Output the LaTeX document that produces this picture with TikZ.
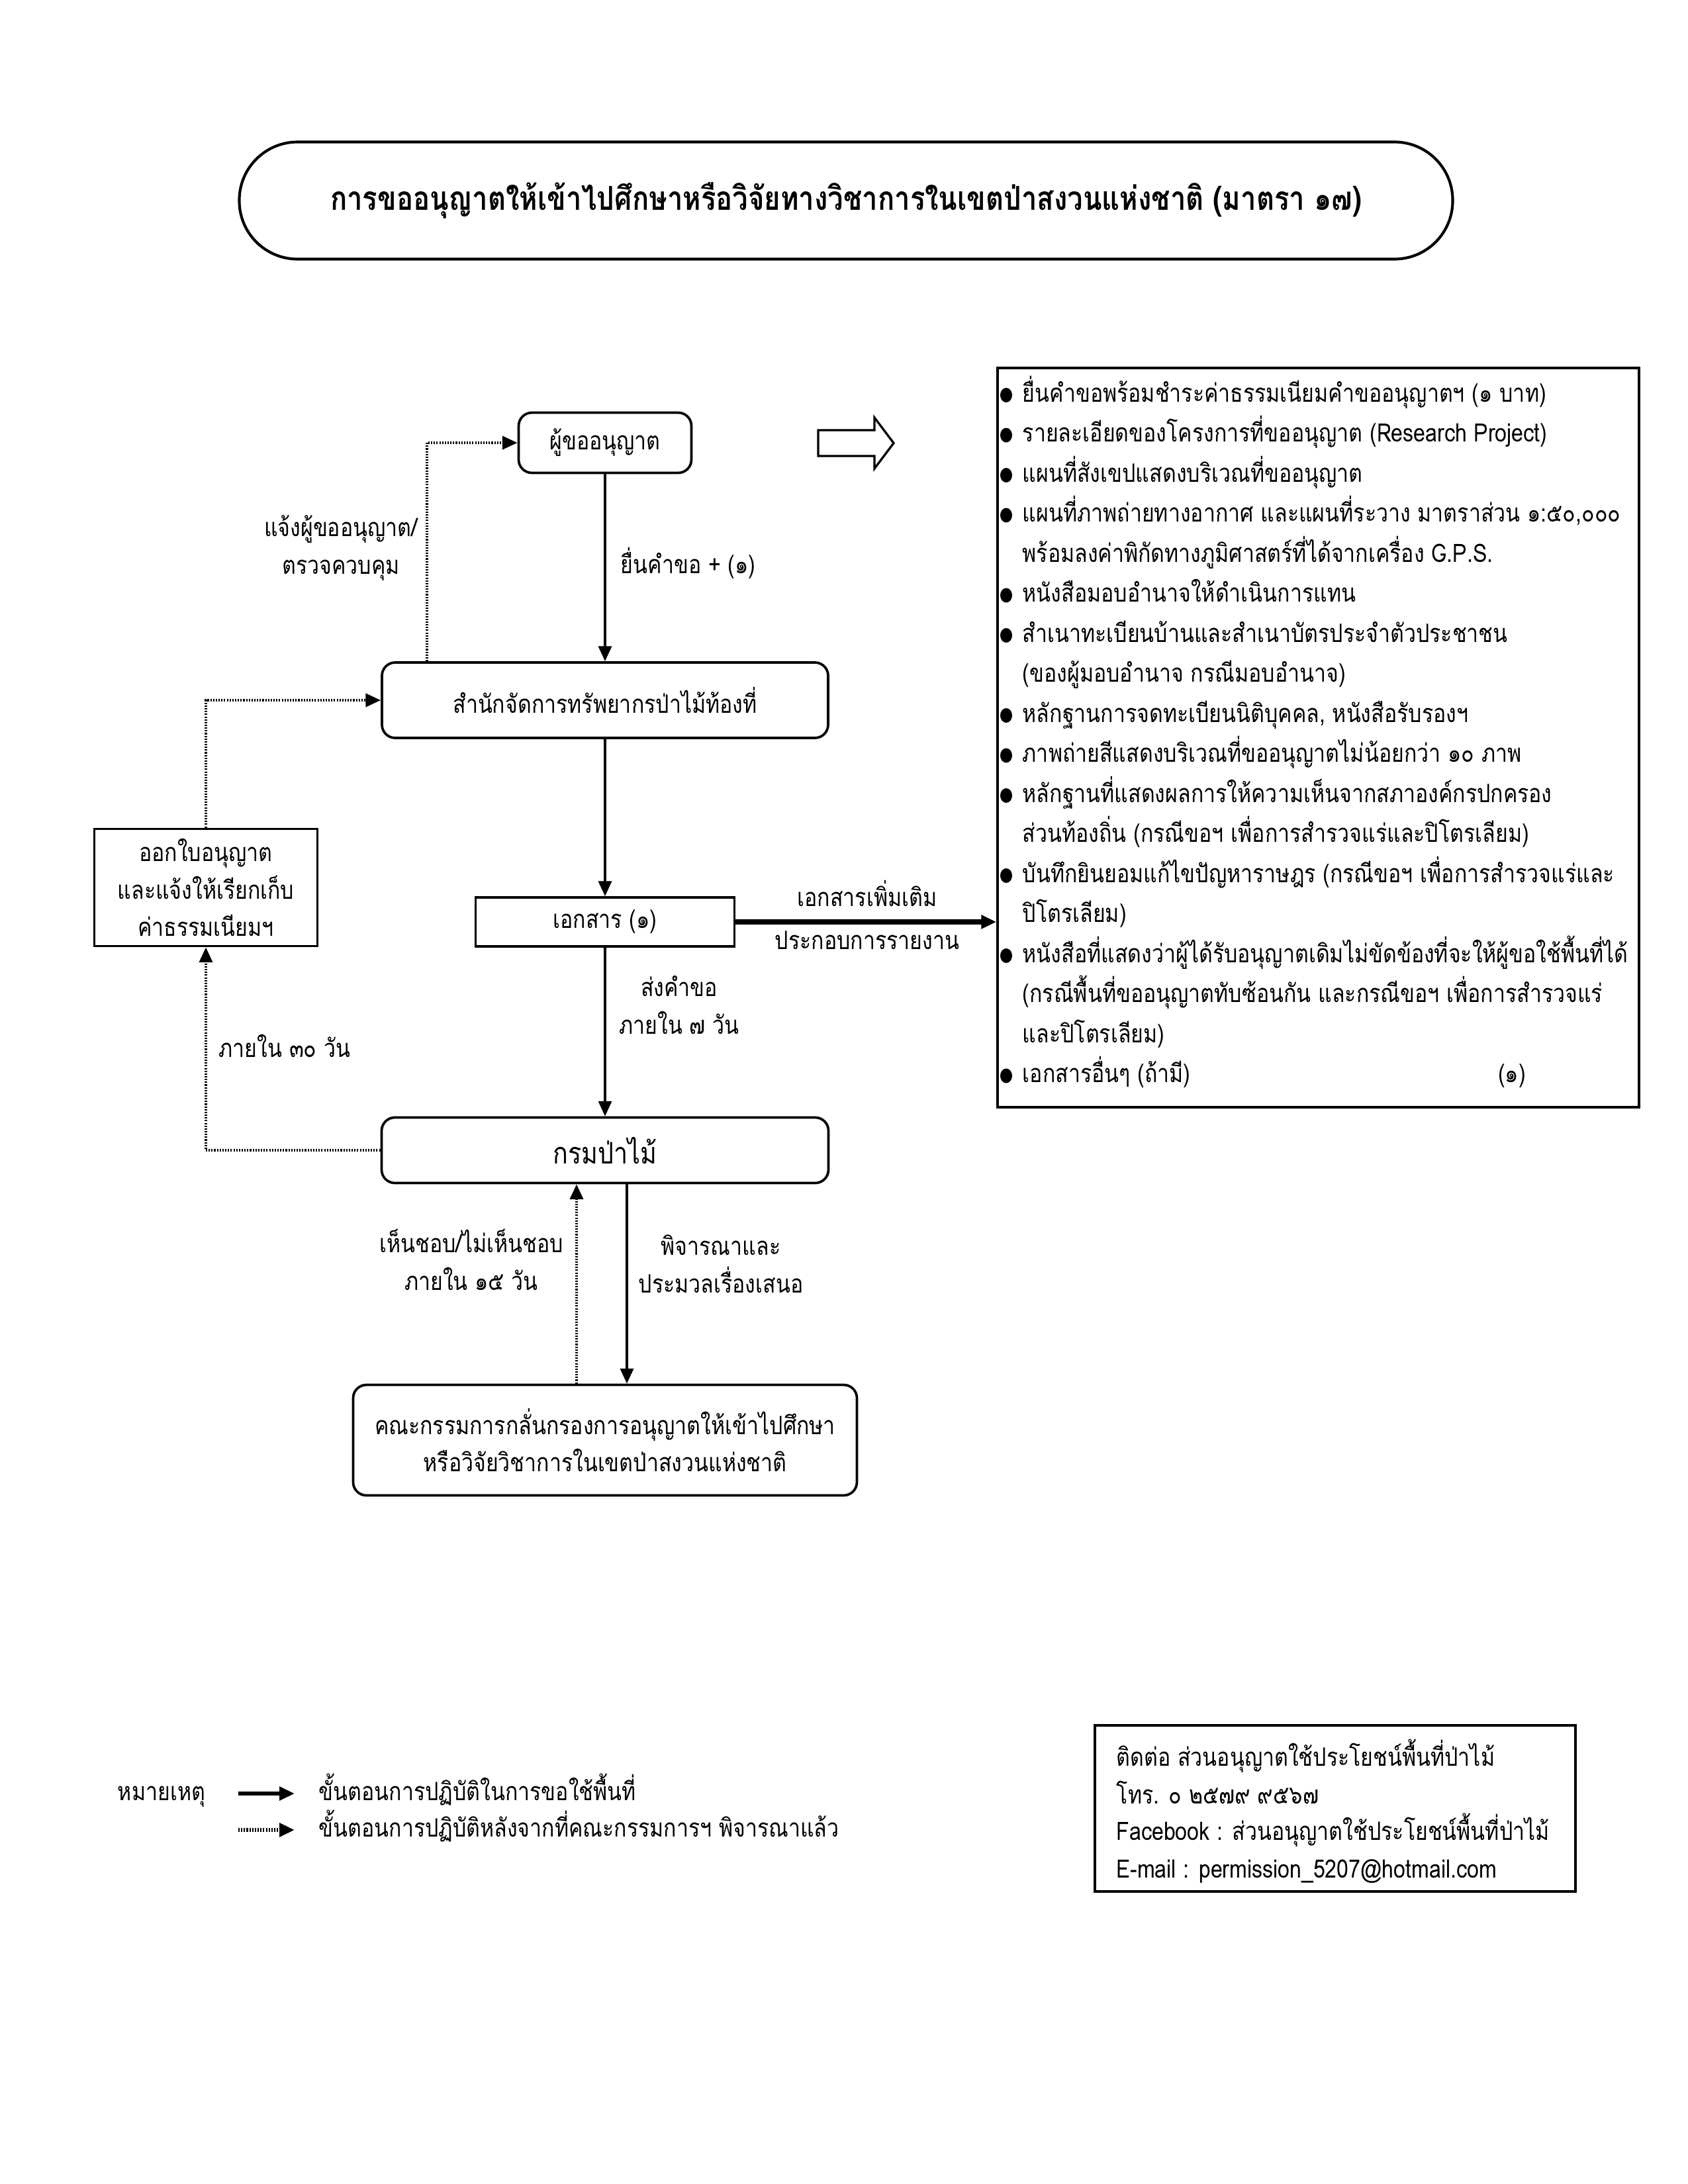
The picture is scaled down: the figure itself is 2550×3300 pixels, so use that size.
\documentclass[tikz,border=0pt]{standalone}
\usepackage{fontspec}
\setmainfont[Script=Thai,FakeStretch=0.84]{Loma}
\usetikzlibrary{arrows.meta}
\newdimen\pxu \pxu=0.084667mm
\newcommand\bodyfont{\fontsize{9.2pt}{13.7pt}\selectfont}
\newcommand\titlefont{\fontsize{12pt}{14pt}\selectfont\bfseries}
\newcommand\bigfont{\fontsize{10.8pt}{14pt}\selectfont}
\begin{document}
\begin{tikzpicture}[x=\pxu,y=-\pxu,
  txt/.style={font=\bodyfont,inner sep=0pt,text height=0.75em,text depth=0.25em},
  rbox/.style={draw,line width=0.9pt,rounded corners=20\pxu,inner sep=0pt,align=center,font=\bodyfont},
  sbox/.style={draw,line width=0.9pt,inner sep=0pt,align=center,font=\bodyfont},
  tip/.style={-{Triangle[length=5.5pt,width=4.8pt]}},
  conn/.style={tip,line width=0.9pt},
  tconn/.style={tip,line width=1.8pt},
  dconn/.style={tip,line width=1pt,dash pattern=on 0.5pt off 0.5pt}]
\fill[white] (0,0) rectangle (2550,3300);
\useasboundingbox (0,0) rectangle (2550,3300);

% title
\node[draw,line width=1pt,rounded corners=88\pxu,minimum width=1833\pxu,minimum height=177\pxu,inner sep=0pt,font=\titlefont] (title) at (1278,303) {การขออนุญาตให้เข้าไปศึกษาหรือวิจัยทางวิชาการในเขตป่าสงวนแห่งชาติ (มาตรา ๑๗)};

% boxes
\node[rbox,minimum width=261\pxu,minimum height=91\pxu] (req) at (914,669) {ผู้ขออนุญาต};
\node[rbox,minimum width=674\pxu,minimum height=114\pxu] (office) at (914,1058) {สำนักจัดการทรัพยากรป่าไม้ท้องที่};
\node[sbox,minimum width=391\pxu,minimum height=74\pxu] (doc) at (914,1393) {เอกสาร (๑)};
\node[rbox,minimum width=675\pxu,minimum height=99\pxu,font=\bigfont] (dept) at (914,1738) {กรมป่าไม้};
\node[sbox,minimum width=337\pxu,minimum height=177\pxu] (issue) at (311,1341) {ออกใบอนุญาต\\และแจ้งให้เรียกเก็บ\\ค่าธรรมเนียมฯ};
\node[rbox,minimum width=761\pxu,minimum height=167\pxu] (comm) at (914,2176) {คณะกรรมการกลั่นกรองการอนุญาตให้เข้าไปศึกษา\\หรือวิจัยวิชาการในเขตป่าสงวนแห่งชาติ};
\node[sbox,minimum width=969\pxu,minimum height=1117\pxu] (list) at (1991.5,1114.5) {};
\node[sbox,minimum width=726\pxu,minimum height=251\pxu] (contact) at (2017,2732.5) {};

% hollow arrow
\draw[line width=0.8pt] (1236,650) -- (1321,650) -- (1321,631) -- (1350,669.5) -- (1321,708) -- (1321,689) -- (1236,689) -- cycle;

% connectors
\coordinate (cR) at (947,0);
\coordinate (cL) at (871,0);
\coordinate (cU) at (645,0);
\draw[conn] (req.south) -- (office.north);
\draw[conn] (office.south) -- (doc.north);
\draw[conn] (doc.south) -- (dept.north);
\draw[tconn] (doc.east) -- (doc.east -| list.west);
\draw[conn] (dept.south -| cR) -- (comm.north -| cR);
\draw[dconn] (comm.north -| cL) -- (dept.south -| cL);
\draw[dconn] (office.north -| cU) |- (req.west);
\draw[dconn] (dept.west) -| (issue.south);
\draw[dconn] (issue.north) |- (office.west);

% connector labels
\node[txt,anchor=west] (l1) at (937,856) {ยื่นคำขอ + (๑)};
\node[txt,align=center] (l2) at (515,857) {แจ้งผู้ขออนุญาต/\\ตรวจควบคุม};
\node[txt] (l3a) at (1310,1359) {เอกสารเพิ่มเติม};
\node[txt] (l3b) at (1310,1424) {ประกอบการรายงาน};
\node[txt,align=center] (l4) at (1026,1552) {ส่งคำขอ\\ภายใน ๗ วัน};
\node[txt] (l5) at (430,1587) {ภายใน ๓๐ วัน};
\node[txt,align=center] (l6) at (712,1939) {เห็นชอบ/ไม่เห็นชอบ\\ภายใน ๑๕ วัน};
\node[txt,align=center] (l7) at (1089,1943) {พิจารณาและ\\ประมวลเรื่องเสนอ};

% list
\foreach \i/\t in {1/{ยื่นคำขอพร้อมชำระค่าธรรมเนียมคำขออนุญาตฯ (๑ บาท)},
  2/{รายละเอียดของโครงการที่ขออนุญาต (Research Project)},
  3/{แผนที่สังเขปแสดงบริเวณที่ขออนุญาต},
  4/{แผนที่ภาพถ่ายทางอากาศ และแผนที่ระวาง มาตราส่วน ๑:๕๐,๐๐๐},
  5/{พร้อมลงค่าพิกัดทางภูมิศาสตร์ที่ได้จากเครื่อง G.P.S.},
  6/{หนังสือมอบอำนาจให้ดำเนินการแทน},
  7/{สำเนาทะเบียนบ้านและสำเนาบัตรประจำตัวประชาชน},
  8/{(ของผู้มอบอำนาจ กรณีมอบอำนาจ)},
  9/{หลักฐานการจดทะเบียนนิติบุคคล, หนังสือรับรองฯ},
  10/{ภาพถ่ายสีแสดงบริเวณที่ขออนุญาตไม่น้อยกว่า ๑๐ ภาพ},
  11/{หลักฐานที่แสดงผลการให้ความเห็นจากสภาองค์กรปกครอง},
  12/{ส่วนท้องถิ่น (กรณีขอฯ เพื่อการสำรวจแร่และปิโตรเลียม)},
  13/{บันทึกยินยอมแก้ไขปัญหาราษฎร (กรณีขอฯ เพื่อการสำรวจแร่และ},
  14/{ปิโตรเลียม)},
  15/{หนังสือที่แสดงว่าผู้ได้รับอนุญาตเดิมไม่ขัดข้องที่จะให้ผู้ขอใช้พื้นที่ได้},
  16/{(กรณีพื้นที่ขออนุญาตทับซ้อนกัน และกรณีขอฯ เพื่อการสำรวจแร่},
  17/{และปิโตรเลียม)},
  18/{เอกสารอื่นๆ (ถ้ามี)}}
  \node[txt,anchor=west] (li\i) at (1544,{597+60.5*(\i-1)}) {\t};
\foreach \i in {1,2,3,4,6,7,9,10,11,13,15,18}
  \fill ({1520},{597+60.5*(\i-1)}) ellipse [x radius=9,y radius=11];
\node[txt] (li18b) at (2284,1625.5) {(๑)};

% legend
\node[txt] (note) at (244,2710) {หมายเหตุ};
\coordinate (la1) at (360,2710); \coordinate (la2) at (445,2710);
\coordinate (lb1) at (360,2765); \coordinate (lb2) at (445,2765);
\draw[conn,line width=1.4pt] (la1) -- (la2);
\draw[dconn,line width=1.4pt] (lb1) -- (lb2);
\node[txt,anchor=west] (n1) at (481,2710) {ขั้นตอนการปฏิบัติในการขอใช้พื้นที่};
\node[txt,anchor=west] (n2) at (481,2765) {ขั้นตอนการปฏิบัติหลังจากที่คณะกรรมการฯ พิจารณาแล้ว};

% contact
\node[txt,anchor=west] (c1) at (1686,2658) {ติดต่อ ส่วนอนุญาตใช้ประโยชน์พื้นที่ป่าไม้};
\node[txt,anchor=west] (c2) at (1686,2715) {โทร. ๐ ๒๕๗๙ ๙๕๖๗};
\node[txt,anchor=west] (c3) at (1686,2770) {Facebook : ส่วนอนุญาตใช้ประโยชน์พื้นที่ป่าไม้};
\node[txt,anchor=west] (c4) at (1686,2827) {E-mail : permission\_5207@hotmail.com};
\end{tikzpicture}
\end{document}
